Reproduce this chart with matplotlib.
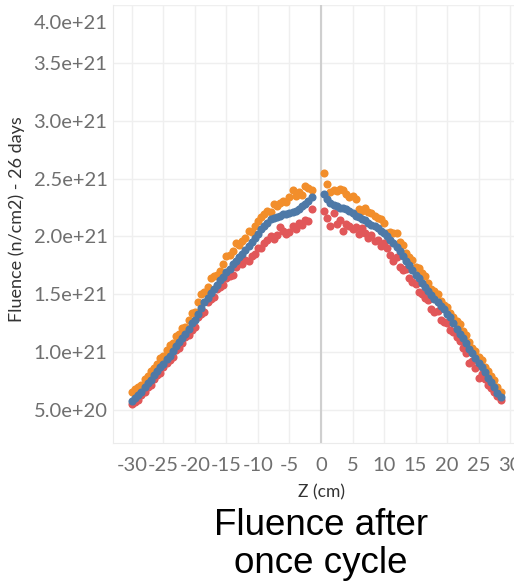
import numpy as np
import matplotlib
matplotlib.use("Agg")
from matplotlib import pyplot as plt
import matplotlib.transforms as mtransforms

# z positions (cm), 0.5 cm steps, left and right of the gap at 0
z_left = np.arange(-30.0, -1.25, 0.5)
z_right = np.arange(0.5, 28.75, 0.5)

# fluence in units of 1e21 n/cm2
blue_left = [0.58, 0.60, 0.63, 0.66, 0.70, 0.73, 0.76, 0.80, 0.84, 0.87,
             0.90, 0.94, 0.97, 1.01, 1.05, 1.09, 1.12, 1.16, 1.20, 1.25,
             1.28, 1.33, 1.38, 1.43, 1.47, 1.51, 1.55, 1.58, 1.62, 1.65,
             1.69, 1.72, 1.76, 1.79, 1.82, 1.85, 1.88, 1.92, 1.95, 1.99,
             2.02, 2.06, 2.09, 2.12, 2.15, 2.16, 2.17, 2.18, 2.19, 2.19,
             2.20, 2.21, 2.22, 2.24, 2.26, 2.28, 2.31, 2.34]
orange_left = [0.66, 0.68, 0.70, 0.72, 0.77, 0.79, 0.84, 0.86, 0.90, 0.95,
               0.97, 1.02, 1.06, 1.08, 1.14, 1.16, 1.21, 1.22, 1.28, 1.34,
               1.35, 1.43, 1.50, 1.52, 1.56, 1.64, 1.66, 1.67, 1.70, 1.76,
               1.83, 1.84, 1.87, 1.94, 1.93, 1.96, 1.99, 2.05, 2.04, 2.09,
               2.13, 2.17, 2.19, 2.22, 2.21, 2.28, 2.26, 2.29, 2.31, 2.30,
               2.34, 2.40, 2.35, 2.38, 2.36, 2.44, 2.42, 2.40]
red_left = [0.55, 0.57, 0.59, 0.63, 0.66, 0.70, 0.72, 0.77, 0.80, 0.82,
            0.87, 0.91, 0.93, 0.96, 1.02, 1.04, 1.08, 1.13, 1.15, 1.19,
            1.22, 1.30, 1.33, 1.35, 1.43, 1.46, 1.48, 1.55, 1.56, 1.58,
            1.64, 1.66, 1.67, 1.74, 1.77, 1.76, 1.80, 1.79, 1.83, 1.85,
            1.90, 1.90, 1.94, 1.97, 2.00, 1.98, 2.01, 2.08, 2.05, 2.02,
            2.04, 2.09, 2.06, 2.12, 2.10, 2.14, 2.13, 2.24]

blue_right = [2.37, 2.32, 2.29, 2.27, 2.26, 2.25, 2.25, 2.24, 2.22, 2.20,
              2.18, 2.17, 2.15, 2.14, 2.12, 2.10, 2.09, 2.07, 2.05, 2.03,
              2.00, 1.97, 1.94, 1.91, 1.87, 1.83, 1.79, 1.75, 1.71, 1.67,
              1.64, 1.60, 1.56, 1.53, 1.49, 1.46, 1.43, 1.40, 1.37, 1.33,
              1.30, 1.25, 1.20, 1.16, 1.12, 1.08, 1.03, 0.99, 0.95, 0.91,
              0.87, 0.83, 0.78, 0.74, 0.70, 0.65, 0.61]
orange_right = [2.55, 2.45, 2.38, 2.40, 2.39, 2.41, 2.40, 2.37, 2.34, 2.35,
                2.32, 2.24, 2.22, 2.25, 2.21, 2.20, 2.18, 2.16, 2.15, 2.12,
                2.03, 2.04, 2.03, 2.03, 1.95, 1.93, 1.86, 1.82, 1.80, 1.74,
                1.73, 1.68, 1.66, 1.60, 1.55, 1.53, 1.50, 1.44, 1.41, 1.39,
                1.34, 1.30, 1.27, 1.24, 1.18, 1.15, 1.09, 1.04, 1.01, 0.96,
                0.93, 0.87, 0.84, 0.79, 0.76, 0.70, 0.66]
red_right = [2.22, 2.16, 2.09, 2.20, 2.11, 2.14, 2.05, 2.11, 2.09, 2.06,
             2.08, 2.02, 2.07, 2.03, 1.99, 2.01, 1.96, 1.97, 1.92, 1.94,
             1.90, 1.84, 1.79, 1.82, 1.74, 1.71, 1.72, 1.64, 1.61, 1.59,
             1.52, 1.50, 1.47, 1.45, 1.37, 1.35, 1.36, 1.28, 1.26, 1.25,
             1.19, 1.17, 1.13, 1.10, 1.04, 0.99, 0.91, 0.92, 0.86, 0.78,
             0.81, 0.77, 0.72, 0.69, 0.66, 0.62, 0.59]

xticks = [-30, -25, -20, -15, -10, -5, 0, 5, 10, 15, 20, 25, 30]
yticks = [0.5, 1.0, 1.5, 2.0, 2.5, 3.0, 3.5, 4.0]
ytick_labels = ['5.0e+20', '1.0e+21', '1.5e+21', '2.0e+21',
                '2.5e+21', '3.0e+21', '3.5e+21', '4.0e+21']

c_orange = '#F28E2B'
c_red = '#E15759'
c_blue = '#4E79A7'

plt.rcParams['font.family'] = ['Lato', 'DejaVu Sans']

fig = plt.figure(figsize=(5.14, 5.85), dpi=100)
ax = fig.add_axes([113/514, 1 - 443/585, 416/514, 438/585])

z_all = np.concatenate([z_left, z_right])
ms = 34
ax.scatter(z_all, orange_left + orange_right, s=ms, color=c_orange, lw=0, zorder=3)
ax.scatter(z_all, red_left + red_right, s=ms, color=c_red, lw=0, zorder=4)
ax.scatter(z_all, blue_left + blue_right, s=ms, color=c_blue, lw=0, zorder=5)

ax.axvline(0, color='#cfcfcf', lw=1.5, zorder=2)

ax.set_xlim(-33, 33)
ax.set_ylim(0.215, 4.0)
ax.set_xticks(xticks)
ax.set_xticklabels([str(t) for t in xticks])
ax.set_yticks(yticks)
ax.set_yticklabels(ytick_labels)
ax.tick_params(length=0, labelsize=14.5, colors='#6f6f6f')
ax.tick_params(axis='y', pad=4)
ax.tick_params(axis='x', pad=10)
ax.grid(True, color='#efefef', lw=1)
ax.set_axisbelow(True)
for s in ['top', 'right']:
    ax.spines[s].set_visible(False)
for s in ['left', 'bottom']:
    ax.spines[s].set_color('#ebebeb')

# top label sits inside the plot, like the original
lab = ax.get_yticklabels()[-1]
lab.set_transform(lab.get_transform() + mtransforms.ScaledTranslation(0, -0.17, fig.dpi_scale_trans))

ax.set_ylabel('Fluence (n/cm2) - 26 days', fontsize=13, color='#333333')
ax.set_xlabel('Z (cm)', fontsize=12.5, color='#333333')
ax.yaxis.set_label_coords(-0.212, 0.51)
ax.xaxis.set_label_coords(0.5, -0.095)

fig.text(321/514, 1 - 535/585, 'Fluence after', ha='center', va='baseline',
         fontsize=26.5, family='Liberation Sans', color='black')
fig.text(321/514, 1 - 573/585, 'once cycle', ha='center', va='baseline',
         fontsize=26.5, family='Liberation Sans', color='black')

fig.savefig('out.png', dpi=100)
